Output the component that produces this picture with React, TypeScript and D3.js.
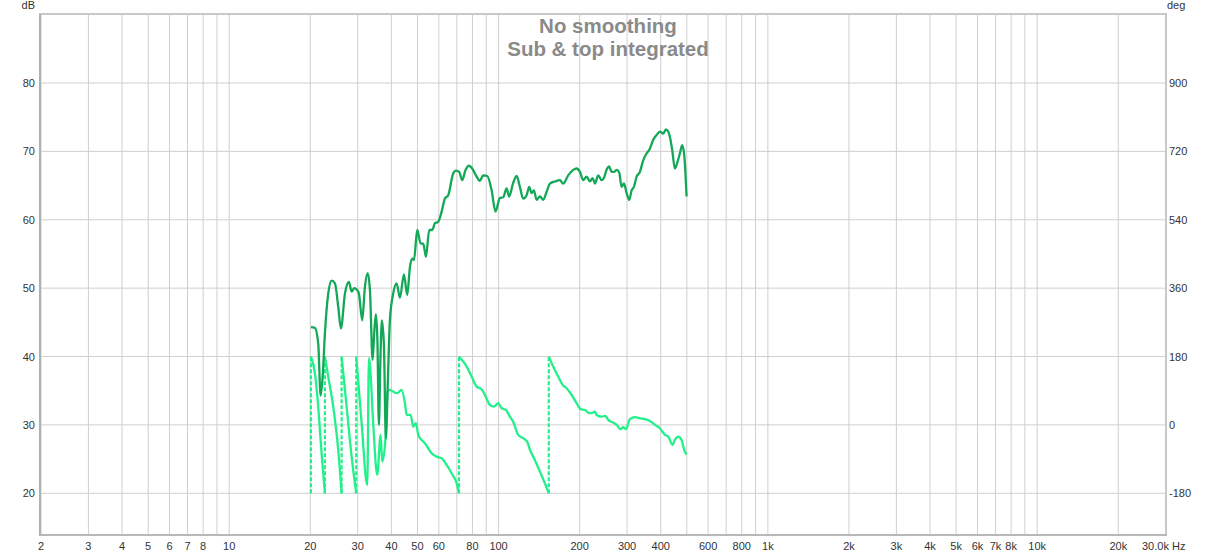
import React from "react";
import * as d3 from "d3";

// ---- data ----
const splHz = [20.1, 20.8, 21.4, 21.84, 22.22, 22.66, 23.31, 24.0, 24.68, 25.39, 25.98, 26.89, 27.82, 28.47, 29.11, 29.72, 30.3, 31.17, 31.9, 32.65, 33.3, 34.06, 34.59, 35.04, 35.49, 35.95, 36.41, 36.88, 37.52, 38.16, 38.82, 39.49, 40.62, 41.82, 43.03, 44.52, 45.8, 46.88, 47.81, 48.51, 49.9, 51.37, 52.52, 53.75, 55.28, 56.72, 58.04, 59.7, 61.47, 63.22, 65.03, 67.87, 69.45, 71.44, 73.29, 75.45, 77.61, 79.83, 82.39, 85.26, 87.7, 90.75, 94.25, 97.34, 101.2, 104.1, 107.1, 109.5, 113.3, 116.7, 120.0, 123.4, 127.1, 130.0, 132.6, 135.3, 138.4, 142.4, 146.5, 150.8, 155.1, 161.9, 169.0, 173.8, 181.4, 189.3, 194.9, 200.5, 206.2, 212.3, 218.4, 223.5, 227.9, 234.4, 241.3, 246.1, 251.8, 257.5, 262.8, 268.8, 274.4, 280.5, 286.3, 292.1, 298.9, 305.6, 311.9, 318.1, 325.5, 334.8, 344.4, 354.6, 364.7, 375.2, 386.2, 397.3, 408.6, 418.2, 426.5, 432.7, 441.3, 451.5, 462.1, 471.3, 480.7, 489.0, 499.0];
const splDb = [44.3, 44.2, 41.9, 34.3, 37.0, 43.4, 49.2, 51.1, 50.7, 47.3, 44.1, 49.2, 50.9, 49.5, 50.0, 49.8, 49.2, 45.3, 50.2, 52.2, 49.7, 39.5, 43.9, 46.2, 42.4, 30.0, 39.5, 45.3, 41.7, 28.0, 36.5, 45.3, 49.2, 50.7, 48.6, 52.0, 49.0, 53.1, 54.3, 54.1, 58.5, 56.5, 56.5, 54.6, 58.5, 58.5, 59.5, 59.7, 61.2, 63.1, 63.6, 66.8, 67.2, 67.0, 65.8, 67.3, 67.9, 67.5, 66.5, 65.7, 66.5, 66.4, 64.3, 61.2, 63.2, 63.3, 64.6, 63.4, 65.4, 66.4, 64.8, 63.1, 63.6, 64.8, 63.9, 64.3, 62.9, 63.4, 62.9, 64.1, 65.3, 65.6, 65.8, 65.3, 66.5, 67.3, 67.5, 67.0, 65.8, 66.3, 65.6, 66.1, 65.3, 66.5, 65.8, 66.1, 67.3, 67.8, 67.0, 67.0, 67.3, 66.9, 64.8, 65.3, 63.9, 62.9, 64.3, 64.8, 66.3, 67.0, 68.7, 69.7, 70.4, 71.7, 72.4, 72.9, 72.6, 73.2, 72.9, 72.1, 70.2, 67.5, 68.5, 69.7, 70.9, 69.5, 63.4];

// wrapped phase; two consecutive points at the same frequency = a wrap (dashed)
const phaseHz = [20.1, 20.1, 20.8, 21.4, 21.84, 22.22, 22.66,
  22.66, 23.31, 24.33, 25.39, 26.14,
  26.14, 27.28, 28.47, 29.61,
  29.61, 31.01, 32.54, 33.02, 33.3, 34.24, 35.44, 36.48, 36.98, 38.0, 38.72, 39.49, 40.62, 42.04, 43.65, 44.91, 45.57, 47.16, 48.22, 49.34, 50.32, 51.81, 53.29, 54.81, 56.43, 58.89, 61.47, 64.14, 66.95, 69.87, 71.3,
  71.3, 73.92, 76.11, 79.42, 82.89, 86.5, 88.97, 92.88, 96.09, 99.7, 102.6, 106.5, 110.2, 113.3, 118.3, 123.4, 127.7, 130.8, 136.4, 142.4, 148.6, 153.6,
  153.6, 159.5, 166.5, 172.9, 178.9, 186.7, 194.9, 201.7, 209.2, 215.2, 221.6, 227.9, 231.2, 241.3, 249.7, 255.3, 266.5, 274.4, 283.9, 290.3, 297.1, 307.4, 320.9, 334.8, 349.5, 364.7, 380.6, 397.3, 414.6, 426.5, 442.8, 451.5, 464.5, 478.2, 489.0, 499.0];
const phaseDeg = [-180, 180, 136, 48, -39.5, -110, -180,
  180, 127.3, 48, -65.8, -180,
  180, 48, -83.4, -180,
  180, 4.6, -158, 176, 158, 4.5, -131.6, -26.3, -96.6, -39.5, 87.8, 92.2, 87.8, 83.5, 92.2, 57.2, 26.3, 26.3, -4.5, 4.5, -26.3, -39.5, -48.2, -61.4, -74.6, -83.5, -87.7, -105.4, -127.2, -153.6, -180,
  180, 166.8, 153.6, 127.2, 100.9, 94, 79, 52.6, 48.2, 57.2, 44, 39.5, 21.9, 8.7, -26.3, -35, -44, -65.8, -92.2, -123, -153.6, -180,
  180, 153.6, 127.2, 105.4, 96.7, 79, 57.2, 41.4, 39.5, 32.4, 30.8, 35, 26.3, 21.9, 23.7, 13.2, 6.1, 0, -11.3, -6.1, -11.3, 15, 20.3, 17.6, 15, 10.5, 0, -8.7, -26.3, -30.8, -52.7, -39.5, -30.8, -39.5, -65.8, -78];

const gridHz = [2, 3, 4, 5, 6, 7, 8, 9, 10, 20, 30, 40, 50, 60, 70, 80, 90, 100, 200, 300, 400, 500, 600, 700, 800, 900, 1000, 2000, 3000, 4000, 5000, 6000, 7000, 8000, 9000, 10000, 20000];
const labelHz = [2, 3, 4, 5, 6, 7, 8, 10, 20, 30, 40, 50, 60, 80, 100, 200, 300, 400, 600, 800, 1000, 2000, 3000, 4000, 5000, 6000, 7000, 8000, 10000, 20000];
const dbTicks = [20, 30, 40, 50, 60, 70, 80];
const degTicks = [-180, 0, 180, 360, 540, 720, 900];
const titleLines = ["No smoothing", "Sub & top integrated"];

const W = 1216, H = 556;
const L = 40, T = 14, R = 1166, B = 535;
const SPL_COLOR = "#13a857";
const PHASE_COLOR = "#22f08a";
const TEXT_COLOR = "#333";
const FONT = "'Liberation Sans', Arial, sans-serif";

export default function App() {
  const x = d3.scaleLog().domain([2, 30000]).range([41, 1165.7]);
  const y = d3.scaleLinear().domain([20, 80]).range([493.3, 83]);
  const yDeg = d3.scaleLinear().domain([-180, 900]).range([493.3, 83]);

  const fmt = (f: number) => (f >= 1000 ? `${f / 1000}k` : `${f}`);

  const splLine = d3.line<number>().x((_, i) => x(splHz[i])).y((d) => y(d)).curve(d3.curveMonotoneX);
  const splPath = splLine(splDb) || "";

  // split phase into solid segments and dashed wraps
  const segs: [number, number][][] = [];
  const wraps: { f: number; a: number; b: number }[] = [];
  let cur: [number, number][] = [];
  for (let i = 0; i < phaseHz.length; i++) {
    if (i > 0 && phaseHz[i] === phaseHz[i - 1]) {
      wraps.push({ f: phaseHz[i], a: phaseDeg[i - 1], b: phaseDeg[i] });
      if (cur.length > 1) segs.push(cur);
      cur = [];
    }
    cur.push([phaseHz[i], phaseDeg[i]]);
  }
  if (cur.length > 1) segs.push(cur);
  const phLine = d3.line<[number, number]>().x((d) => x(d[0])).y((d) => yDeg(d[1])).curve(d3.curveMonotoneX);

  return (
    <svg width={W} height={H} style={{ position: "fixed", left: 0, top: 0, background: "#fff" }} fontFamily={FONT}>
      <rect x={0} y={0} width={W} height={H} fill="#fff" />
      {/* grid */}
      {gridHz.map((f) => (
        <line key={"v" + f} x1={x(f)} x2={x(f)} y1={T} y2={B} stroke="#cfcfcf" strokeWidth={1} />
      ))}
      {dbTicks.map((d) => (
        <line key={"h" + d} x1={L} x2={R} y1={y(d)} y2={y(d)} stroke="#cfcfcf" strokeWidth={1} />
      ))}
      {/* frame */}
      <rect x={L} y={T} width={R - L} height={B - T} fill="none" stroke="#c8c8c8" strokeWidth={2} />
      <line x1={L} x2={L} y1={T} y2={B + 1} stroke="#b0b0b0" strokeWidth={2} />
      <line x1={L} x2={R + 1} y1={B} y2={B} stroke="#b8b8b8" strokeWidth={2} />
      {/* title */}
      {titleLines.map((t, i) => (
        <text key={t} x={608} y={33 + i * 23} textAnchor="middle" fontSize={20.5} fontWeight="bold" fill="#8a8a8a">
          {t}
        </text>
      ))}
      {/* phase */}
      {wraps.map((w, i) => (
        <line key={"w" + i} x1={x(w.f)} x2={x(w.f)} y1={yDeg(w.a)} y2={yDeg(w.b)} stroke={PHASE_COLOR} strokeWidth={2.2} strokeDasharray="4,2" />
      ))}
      {segs.map((s, i) => (
        <path key={"p" + i} d={phLine(s) || ""} fill="none" stroke={PHASE_COLOR} strokeWidth={2.3} strokeLinejoin="round" />
      ))}
      {/* SPL */}
      <path d={splPath} fill="none" stroke={SPL_COLOR} strokeWidth={2.3} strokeLinejoin="round" />
      {/* axes labels */}
      {dbTicks.map((d) => (
        <text key={"l" + d} x={35} y={y(d) + 4} textAnchor="end" fontSize={11} fill={TEXT_COLOR}>{d}</text>
      ))}
      {degTicks.map((d) => (
        <text key={"r" + d} x={1169} y={yDeg(d) + 4} textAnchor="start" fontSize={11} fill={TEXT_COLOR}>{d}</text>
      ))}
      <text x={35} y={9} textAnchor="end" fontSize={11} fill={TEXT_COLOR}>dB</text>
      <text x={1167} y={9} textAnchor="start" fontSize={11} fill={TEXT_COLOR}>deg</text>
      {labelHz.map((f) => (
        <text key={"x" + f} x={x(f)} y={550} textAnchor="middle" fontSize={11} fill={TEXT_COLOR}>{fmt(f)}</text>
      ))}
      <text x={1142} y={550} textAnchor="start" fontSize={11} fill={TEXT_COLOR}>30.0k Hz</text>
    </svg>
  );
}
